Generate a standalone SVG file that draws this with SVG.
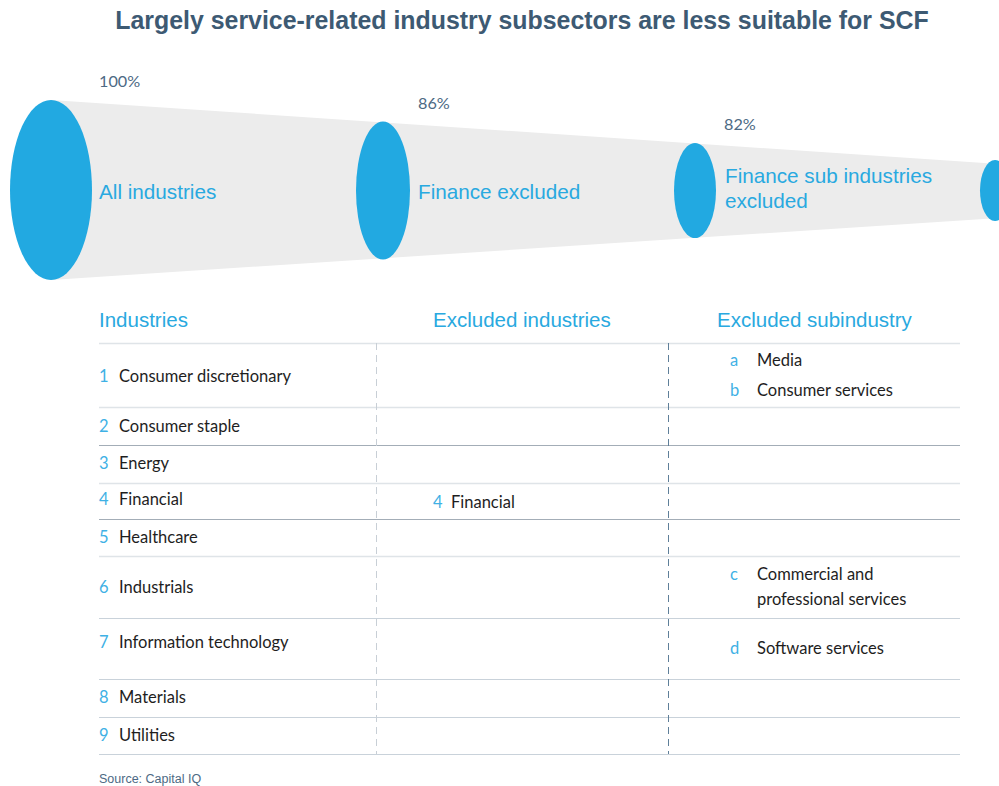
<svg xmlns="http://www.w3.org/2000/svg" width="999" height="786" viewBox="0 0 999 786">
<style>
.title{font-family:"Liberation Sans",Arial,sans-serif;font-weight:bold;font-size:24.9px;fill:#3d5a73}
.pct{font-family:Lato,"Liberation Sans",sans-serif;font-size:16.2px;fill:#4d6a84}
.lbl{font-family:"Liberation Sans",Arial,sans-serif;font-size:20.7px;fill:#29a9e0}
.hdr{font-family:"Liberation Sans",Arial,sans-serif;font-size:20.5px;fill:#29a9e0}
.num{font-family:Lato,"Liberation Sans",sans-serif;font-size:16.5px;fill:#3fb1e5}
.txt{font-family:Lato,"Liberation Sans",sans-serif;font-size:16.5px;fill:#1e1e1e}
.src{font-family:"Liberation Sans",Arial,sans-serif;font-size:12.5px;fill:#4d6a84}
.ell{fill:#22a9e1}
.hl{stroke:#dfe4e8;stroke-width:1.5}
.hd{stroke:#a3adb7;stroke-width:1.2}
.hm{stroke:#c9d2da;stroke-width:1.2}
</style>
<rect width="999" height="786" fill="#ffffff"/>
<text class="title" x="522" y="29" text-anchor="middle">Largely service-related industry subsectors are less suitable for SCF</text>

<g id="funnel">
<polygon points="51,100 999,164 999,218 51,280" fill="#ececec"/>
</g>
<g id="stage1">
<ellipse class="ell" cx="51" cy="190" rx="41" ry="90"/>
<text class="pct" x="99" y="87">100%</text>
<text class="lbl" x="99" y="199">All industries</text>
</g>
<g id="stage2">
<ellipse class="ell" cx="383" cy="190.5" rx="27" ry="69"/>
<text class="pct" x="418" y="109">86%</text>
<text class="lbl" x="418" y="199">Finance excluded</text>
</g>
<g id="stage3">
<ellipse class="ell" cx="695" cy="190.5" rx="21" ry="47.5"/>
<text class="pct" x="724" y="130">82%</text>
<text class="lbl" x="725" y="183">Finance sub industries</text>
<text class="lbl" x="725" y="208">excluded</text>
</g>
<g id="stage4">
<ellipse class="ell" cx="995" cy="190.5" rx="15" ry="30.5"/>
</g>

<g id="table">
<text class="hdr" x="99" y="327">Industries</text>
<text class="hdr" x="433" y="327">Excluded industries</text>
<text class="hdr" x="717" y="327">Excluded subindustry</text>
<line class="hl" x1="99" y1="343.5" x2="960" y2="343.5"/>
<line class="hl" x1="99" y1="407.5" x2="960" y2="407.5" stroke-width="2"/>
<line class="hd" x1="99" y1="445.5" x2="960" y2="445.5"/>
<line class="hl" x1="99" y1="483.5" x2="960" y2="483.5"/>
<line class="hd" x1="99" y1="519.5" x2="960" y2="519.5"/>
<line class="hl" x1="99" y1="556.5" x2="960" y2="556.5"/>
<line class="hm" x1="99" y1="618.5" x2="960" y2="618.5"/>
<line class="hm" x1="99" y1="679.5" x2="960" y2="679.5"/>
<line class="hm" x1="99" y1="717.5" x2="960" y2="717.5"/>
<line class="hm" x1="99" y1="754.5" x2="960" y2="754.5" stroke="#b9c5cf"/>
<line x1="376.5" y1="343" x2="376.5" y2="754" stroke="#c8cfd6" stroke-width="1" stroke-dasharray="7,5"/>
<line x1="668.5" y1="343" x2="668.5" y2="754" stroke="#5f7f99" stroke-width="1" stroke-dasharray="7,5"/>
</g>

<g id="industries">
<text class="num" x="99" y="382">1</text><text class="txt" x="119" y="382">Consumer discretionary</text>
<text class="num" x="99" y="432">2</text><text class="txt" x="119" y="432">Consumer staple</text>
<text class="num" x="99" y="469">3</text><text class="txt" x="119" y="469">Energy</text>
<text class="num" x="99" y="505">4</text><text class="txt" x="119" y="505">Financial</text>
<text class="num" x="99" y="543">5</text><text class="txt" x="119" y="543">Healthcare</text>
<text class="num" x="99" y="593">6</text><text class="txt" x="119" y="593">Industrials</text>
<text class="num" x="99" y="648">7</text><text class="txt" x="119" y="648">Information technology</text>
<text class="num" x="99" y="703">8</text><text class="txt" x="119" y="703">Materials</text>
<text class="num" x="99" y="741">9</text><text class="txt" x="119" y="741">Utilities</text>
</g>
<g id="excluded">
<text class="num" x="433" y="508">4</text><text class="txt" x="451" y="508">Financial</text>
</g>
<g id="subindustry">
<text class="num" x="730" y="366">a</text><text class="txt" x="757" y="366">Media</text>
<text class="num" x="730" y="396">b</text><text class="txt" x="757" y="396">Consumer services</text>
<text class="num" x="730" y="580">c</text><text class="txt" x="757" y="580">Commercial and</text>
<text class="txt" x="757" y="605">professional services</text>
<text class="num" x="730" y="654">d</text><text class="txt" x="757" y="654">Software services</text>
</g>
<text class="src" x="99" y="783">Source: Capital IQ</text>
</svg>
